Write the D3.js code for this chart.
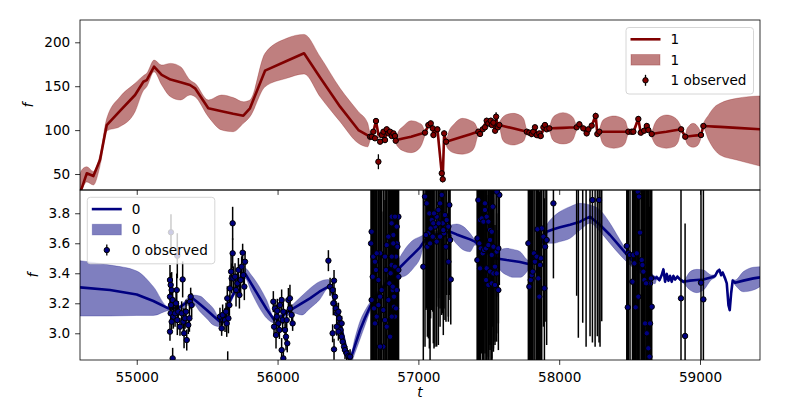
<!DOCTYPE html>
<html><head><meta charset="utf-8">
<script src="https://cdn.jsdelivr.net/npm/d3@7"></script>
<style>body{margin:0;background:#fff}svg{display:block}text{font-family:"DejaVu Sans",sans-serif}</style>
</head><body><svg id="c" width="800" height="400"></svg>
<script>
// ---------- data ----------
const xTicks = [55000, 56000, 57000, 58000, 59000];
const yTicks1 = [50, 100, 150, 200];
const yTicks0 = [3.0, 3.2, 3.4, 3.6, 3.8];
const legendLabels1 = ["1", "1", "1 observed"];
const legendLabels0 = ["0", "0", "0 observed"];

// prediction of series 1: [t, mean, lower, upper]
const pred1 = [
[54597,30,26,50],[54609,33.7,31,54.6],[54645,50.8,41,58.3],[54692,47.7,37.5,53],[54739,66,59,72],
[54787,105.8,99,113.4],[54881,122,104,138],[54988,140,121,153.3],[55047,155.1,145,162],[55071,157,149.4,164.7],
[55123,172.2,166.5,179.8],[55177,162.8,151.4,174.1],[55240,157.6,138,176],[55311,154.6,134.3,172.2],
[55378,151.4,140,157],[55414,147.6,138,153.3],[55508,124.8,115.3,134.3],[55603,121.5,100.1,140],
[55685,118.6,98.2,137],[55757,116.4,107.7,132.3],[55804,124.8,115.3,134.3],[55911,167.7,149.4,187.5],
[56064,178.7,159,204.5],[56188,187.5,164,209],[56302,160,138,183.6],[56444,126.7,109.6,147.6],
[56574,100.1,85,121],[56640,94,81,108],[56657,92.5,88,98],
[56680,98.2,95,101],[56699,110.4,106,113],[56716,95,91,98],[56740,94.4,91,97],[56763,88.7,85,92],
[56775,100.9,97,104],[56799,98.2,95,101],[56823,96.3,93,99],[56839,87.9,85,91],
[56860,89.3,80,99],[56890,90.5,76.5,104],[56948,92.5,74.3,110.7],[57000,95,78,108.5],[57025,96.2,84,106],[57047,97.1,94,100],
[57071,105.8,102,109],[57088,107.7,104,111],[57102,102,99,105],[57107,94.4,91,98],[57135,100.9,97,104],
[57166,50.8,47,55],[57173,44,40,48],[57183,96.3,92,100],[57197,86.8,83,90],
[57220,88,77,100],[57254,89.6,74,107],[57311,92.5,72.6,113.4],[57369,95.4,75,111],[57400,97,81,108],[57426,98.2,95,101],
[57457,100.9,98,104],[57485,110.7,107,114],[57497,107.7,104,111],[57514,110.7,107,114],[57533,108.5,105,112],
[57545,99.3,96,103],[57552,115.3,111,119],[57564,103.2,100,106],[57575,105.8,102,109],
[57595,105,90,114],[57623,103.9,85,117.5],[57672,102,83,119.1],[57721,100.1,85,117],[57750,99,88,112],[57770,98.2,95,101],
[57805,95.6,92,99],[57828,103.2,100,106],[57840,94.4,91,98],[57869,93.3,90,97],[57899,105.8,102,109],[57930,102,99,105],
[57950,102.1,90,113],[57978,102.3,86,117.5],[58027,102.6,84.2,119.9],[58076,102.9,86,117.5],[58104,103,91,113],[58124,103.2,100,106],
[58143,106.6,103,110],[58171,102,99,105],[58195,96.3,93,99],[58231,105.1,102,108],[58259,116.1,112,120],
[58271,95.6,92,99],[58285,98.2,95,101],
[58305,98.2,86,110],[58337,98.2,81,114],[58388,98.2,79.3,116.1],[58440,98.2,81,114],[58471,98.2,86,110],[58491,98.2,95,101],
[58527,98.2,95,101],[58562,112.7,109,116],[58579,97.1,94,100],[58603,99.3,96,103],[58622,104.7,101,108],[58657,95.6,92,99],
[58677,96.2,85,107],[58709,97,81,114],[58761,98.2,79.3,117.2],[58813,99.6,81,115],[58846,100.4,87,110],[58866,100.9,98,104],
[58895,92.5,90,95],[58906,92.7,85,101],[58923,93,82,105],[58951,93.5,80.4,107.7],[58979,94,82,105],[58996,94.2,86,101],[59007,94.4,91,97],
[59024,104.7,102,107],[59060,104.4,89,117],[59105,104,77.3,126.7],[59143,103.7,71.6,130.5],
[59261,102.6,66,136.2],[59426,100.9,59.1,138.9]
];

// observations of series 1: [t, f, error]
const obs1 = [
[56657,92.5,2],[56669,92.5,2],[56680,98.2,2],[56692,90.7,2],[56699,110.4,3],[56716,64.0,8.5],[56728,86.8,2],
[56740,94.4,2],[56752,98.2,2],[56763,88.7,2],[56775,100.9,2],[56787,96.3,2],[56799,98.2,2],[56811,93.3,2],
[56823,96.3,2],[56834,93.3,2],[56839,87.9,2],
[57047,97.1,2],[57071,105.8,2],[57088,107.7,2],[57102,102,2],[57107,94.4,2],[57135,100.9,2],[57166,50.8,2],
[57173,44.0,2],[57183,96.3,2],[57197,86.8,2],
[57426,98.2,2],[57438,95.6,2],[57457,100.9,2],[57473,103.2,2],[57485,110.7,2],[57497,107.7,2],[57514,110.7,2],
[57521,105.8,2],[57533,108.5,2],[57545,99.3,2],[57552,115.3,5],[57564,103.2,2],[57575,105.8,2],
[57770,98.2,2],[57788,97.1,2],[57805,95.6,2],[57816,98.2,2],[57828,103.2,2],[57840,94.4,2],[57859,96.3,2],
[57869,93.3,2],[57888,103.2,2],[57899,105.8,2],[57911,100.9,2],[57930,102,2],
[58124,103.2,2],[58143,106.6,2],[58171,102,2],[58195,96.3,2],[58207,100.9,2],[58231,105.1,2],[58259,116.1,3],
[58271,95.6,2],[58285,98.2,2],
[58491,98.2,2],[58515,98.2,2],[58527,98.2,2],[58562,112.7,3],[58579,97.1,2],[58603,99.3,2],[58622,104.7,2],
[58633,100.1,2],[58657,95.6,2],
[58866,100.9,2],[58895,92.5,2],[59007,94.4,2],[59024,104.7,2]
];

// prediction of series 0: [t, mean, lower, upper]
const pred0 = [
[54597,3.306,3.115,3.484],[54810,3.288,3.115,3.455],[55000,3.259,3.119,3.415],[55118,3.215,3.119,3.311],
[55224,3.166,3.151,3.177],[55300,3.17,3.155,3.185],[55397,3.233,3.2,3.255],[55449,3.193,3.144,3.248],
[55497,3.155,3.099,3.211],[55544,3.115,3.055,3.166],[55591,3.077,3.044,3.1],[55680,3.25,3.23,3.27],
[55769,3.399,3.366,3.433],[55816,3.326,3.27,3.385],[55871,3.24,3.17,3.31],[55923,3.16,3.1,3.22],
[55975,3.09,3.07,3.11],[56040,3.12,3.1,3.14],[56112,3.166,3.136,3.196],[56171,3.2,3.122,3.248],
[56230,3.233,3.166,3.299],[56297,3.277,3.222,3.344],[56361,3.311,3.299,3.359],[56380,3.30,3.285,3.315],
[56450,3.05,3.035,3.065],[56500,2.85,2.835,2.865],[56515,2.82,2.79,2.85],[56550,2.92,2.87,2.97],
[56586,3.022,2.962,3.082],[56620,3.1,3.05,3.15],[56657,3.177,3.147,3.207],[56760,3.32,3.3,3.34],
[56870,3.44,3.37,3.51],[56917,3.484,3.388,3.577],[56964,3.528,3.433,3.622],[57012,3.573,3.5,3.644],
[57047,3.622,3.6,3.66],[57130,3.66,3.64,3.68],[57225,3.677,3.64,3.72],[57272,3.659,3.595,3.728],
[57320,3.642,3.555,3.711],[57367,3.626,3.544,3.666],[57402,3.611,3.588,3.622],[57470,3.56,3.54,3.58],
[57544,3.5,3.477,3.522],[57580,3.495,3.422,3.555],[57627,3.488,3.388,3.566],[57674,3.482,3.373,3.559],
[57722,3.475,3.373,3.544],[57781,3.462,3.422,3.488],[57850,3.55,3.53,3.57],[57911,3.677,3.6,3.722],
[57959,3.693,3.6,3.777],[58006,3.706,3.611,3.811],[58077,3.724,3.633,3.844],[58148,3.744,3.688,3.866],
[58219,3.777,3.733,3.855],[58290,3.722,3.677,3.822],[58361,3.655,3.599,3.733],[58432,3.577,3.522,3.622],
[58503,3.5,3.455,3.522],[58574,3.433,3.4,3.455],[58645,3.388,3.35,3.411],[58681,3.366,3.33,3.38],
[58693,3.373,3.36,3.386],[58712,3.355,3.345,3.365],[58728,3.388,3.378,3.398],[58740,3.426,3.416,3.436],
[58752,3.344,3.334,3.354],[58764,3.395,3.385,3.405],[58776,3.351,3.341,3.361],[58787,3.382,3.372,3.392],
[58799,3.344,3.334,3.354],[58811,3.382,3.372,3.392],[58823,3.359,3.349,3.369],[58839,3.377,3.367,3.387],
[58858,3.359,3.349,3.369],[58882,3.344,3.334,3.354],[58929,3.351,3.288,3.41],[58977,3.355,3.271,3.426],
[59024,3.359,3.288,3.422],[59083,3.373,3.359,3.388],[59107,3.382,3.372,3.392],[59123,3.411,3.401,3.421],
[59138,3.422,3.412,3.432],[59150,3.388,3.378,3.398],[59161,3.404,3.394,3.414],[59178,3.366,3.356,3.376],
[59190,3.333,3.323,3.343],[59202,3.188,3.178,3.198],[59211,3.155,3.145,3.165],[59221,3.266,3.256,3.276],
[59232,3.351,3.341,3.361],[59249,3.337,3.322,3.355],[59308,3.351,3.277,3.411],[59379,3.366,3.288,3.44],
[59426,3.373,3.311,3.444]
];

// observations of series 0: [t, f, error]
const obs0 = [
[55236,3.355,0.10],[55241,3.322,0.08],[55248,3.288,0.12],[55236,3.244,0.09],[55255,3.222,0.07],[55243,3.188,0.10],
[55241,3.133,0.06],[55260,3.111,0.08],[55248,3.077,0.05],[55236,3.011,0.06],[55272,3.133,0.09],[55284,3.288,0.11],
[55279,3.200,0.08],[55295,3.144,0.07],[55288,3.088,0.10],[55307,3.044,0.06],[55319,3.133,0.08],[55326,3.359,0.12],
[55331,3.077,0.09],[55336,3.000,0.10],[55343,3.100,0.07],[55350,3.144,0.08],[55355,2.955,0.07],[55366,3.055,0.06],
[55374,3.100,0.09],[55378,3.211,0.05],[55383,3.244,0.06],[55390,3.188,0.08],[55255,2.833,0.07],[55243,3.673,0.12],
[55288,3.517,0.15],
[55591,3.111,0.06],[55603,3.033,0.05],[55610,3.122,0.07],[55627,3.088,0.08],[55639,3.066,0.09],[55634,3.144,0.06],
[55651,3.100,0.10],[55643,3.233,0.08],[55658,3.188,0.07],[55662,3.299,0.09],[55674,3.366,0.10],[55670,3.411,0.12],
[55681,3.533,0.10],[55681,3.733,0.11],[55686,3.366,0.08],[55698,3.377,0.09],[55705,3.288,0.11],[55715,3.333,0.07],
[55722,3.422,0.08],[55729,3.255,0.09],[55738,3.355,0.10],[55745,3.444,0.07],[55752,3.537,0.06],[55757,3.388,0.08],
[55769,3.477,0.07],[55764,3.311,0.09],[55646,2.80,0.08],
[55970,3.211,0.07],[55982,3.166,0.06],[55994,3.111,0.08],[56006,3.066,0.07],[55975,3.044,0.06],[55989,2.988,0.09],
[56017,3.188,0.05],[56029,3.222,0.07],[56041,3.144,0.08],[56036,3.088,0.06],[56053,3.022,0.07],[56060,2.977,0.09],
[56069,2.933,0.06],[56029,2.888,0.08],[56041,2.833,0.07],[56077,3.222,0.08],[56088,3.166,0.06],[56100,3.122,0.07],
[56107,3.066,0.05],[56088,3.233,0.09],[56065,3.088,0.07],[56013,3.022,0.06],[55998,3.15,0.08],
[56361,3.484,0.07],[56373,3.311,0.06],[56401,3.351,0.07],[56391,3.288,0.05],[56408,3.244,0.06],[56396,3.2,0.08],
[56415,3.166,0.05],[56420,3.133,0.07],[56432,3.144,0.06],[56439,3.1,0.05],[56444,3.066,0.06],[56448,3.022,0.07],
[56455,2.977,0.05],[56462,2.944,0.06],[56472,2.911,0.05],[56479,2.888,0.06],[56491,2.866,0.05],[56503,2.848,0.04],
[56515,2.844,0.05],[56391,3.0,0.06],[56401,2.893,0.07],[56432,3.011,0.06],[56455,3.066,0.05],[56420,3.044,0.06],
[56668,3.677,1.0],[56664,3.599,0.9],[56680,3.511,1.1],[56692,3.477,0.8],[56676,3.377,1.2],[56699,3.422,0.9],
[56668,3.222,1.0],[56685,3.166,0.8],[56704,3.111,1.3],[56692,3.066,0.9],[56716,3.188,0.8],[56728,3.244,1.1],
[56739,3.288,0.9],[56751,3.155,1.0],[56763,3.088,0.8],[56775,3.044,1.2],[56787,3.222,0.9],[56794,3.333,1.0],
[56803,3.4,0.8],[56810,3.455,1.1],[56818,3.288,0.9],[56827,3.177,1.0],[56834,3.111,0.8],[56841,3.511,1.2],
[56846,3.599,0.9],[56858,3.777,1.0],[56822,3.655,1.1],[56775,3.588,0.9],[56763,3.511,1.0],[56751,2.911,0.9],
[56728,2.911,1.1],[56799,2.977,1.0],[56846,3.288,0.8],[56858,3.377,1.0],[56770,3.422,0.9],[56716,3.355,1.2],
[56728,3.533,0.9],[56704,3.533,1.0],[56787,3.644,1.1],[56810,3.733,0.9],[56811,3.777,1.0],[56834,3.777,1.2],
[56846,3.711,0.9],[56822,3.599,1.0],[56811,3.511,0.8],[56834,3.444,1.1],[56858,3.422,0.9],[56818,3.311,1.0],
[56827,3.244,0.8],[56841,3.166,1.0],[56811,3.111,0.9],[56851,3.577,1.0],
[57047,3.911,1.0],[57059,3.866,0.7],[57078,3.799,0.9],[57095,3.755,0.6],[57071,3.666,0.7],[57054,3.655,0.5],
[57035,3.444,0.9],[57064,3.577,0.6],[57083,3.599,0.8],[57102,3.644,0.5],[57118,3.711,0.8],[57130,3.777,0.6],
[57142,3.822,0.9],[57154,3.866,0.7],[57166,3.922,0.8],[57173,3.733,0.6],[57182,3.666,0.5],[57189,3.788,0.7],
[57201,3.755,0.5],[57213,3.711,0.6],[57220,3.855,0.6],[57225,3.622,0.4],[57230,3.359,0.3],[57213,3.477,0.4],
[57196,3.577,0.5],[57177,3.688,0.7],[57154,3.644,0.6],[57130,3.611,0.7],[57106,3.733,0.8],[57087,3.699,0.6],
[57111,3.799,0.9],[57144,3.733,0.5],
[57426,3.888,1.1],[57438,3.755,1.0],[57450,3.766,0.9],[57462,3.744,1.1],[57473,3.822,0.8],[57485,3.777,1.0],
[57497,3.744,0.9],[57509,3.688,0.8],[57521,3.677,0.9],[57419,3.633,1.0],[57433,3.599,0.9],[57443,3.566,1.1],
[57457,3.533,0.8],[57466,3.555,1.0],[57481,3.566,0.9],[57497,3.588,0.8],[57509,3.622,0.7],[57521,3.522,0.8],
[57533,3.577,0.7],[57544,3.444,0.5],[57556,3.544,0.6],[57568,3.566,0.5],[57419,3.488,0.9],[57438,3.433,1.0],
[57485,3.433,0.8],[57509,3.411,0.6],[57533,3.399,0.5],[57556,3.399,0.4],[57481,3.355,0.7],[57497,3.322,0.6],
[57521,3.333,0.5],[57544,3.322,0.4],[57568,3.288,0.4],[57575,3.922,0.6],[57556,3.944,0.7],[57528,3.844,0.8],
[57473,3.866,1.0],
[57781,3.6,1.0],[57788,3.311,0.9],[57798,3.355,1.1],[57805,3.388,0.8],[57812,3.411,1.0],[57821,3.533,0.9],
[57828,3.477,1.1],[57840,3.511,0.8],[57852,3.366,0.9],[57859,3.244,0.7],[57864,3.455,0.8],[57876,3.699,0.9],
[57888,3.644,0.6],[57900,3.577,0.5],[57911,3.622,0.7],[57845,3.693,0.9],[57959,3.866,0.5],[57895,3.3,0.6],
[57870,3.5,0.7],
[58124,4.3,1.05],[58136,4.3,1.33],[58167,4.25,1.18],[58191,4.3,1.39],[58219,4.28,1.3],[58236,3.888,0.95],
[58255,4.3,1.39],[58271,4.2,1.22],[58283,3.888,0.95],[58290,4.3,1.39],[58302,4.2,1.12],
[58480,3.582,1.2],[58491,3.533,1.0],[58503,3.522,1.3],[58527,3.522,1.1],[58520,3.344,0.9],[58534,3.466,1.2],
[58551,3.533,1.0],[58562,3.244,0.9],[58574,3.671,1.3],[58586,3.488,1.1],[58591,3.455,1.0],[58598,3.411,1.2],
[58605,3.355,0.9],[58610,3.066,1.0],[58622,3.0,1.1],[58633,2.9,1.2],[58641,2.844,1.0],[58645,3.333,0.9],
[58652,3.366,1.2],[58657,3.177,1.0],[58487,3.173,1.1],[58543,3.173,1.0],[58558,3.944,1.2],[58567,3.911,1.3],
[58629,3.333,1.1],[58645,3.066,1.0],[58617,3.333,1.2],
[58865,3.233,1.0],[58894,2.982,0.75],[59007,3.337,1.0],[59024,3.226,1.0]
];

// ---------- drawing ----------
const FS = 13.6;
const svg = d3.select("#c");
const L = 80, R = 760;
const x = d3.scaleLinear().domain([54597, 59426]).range([L, R]);
const y1 = d3.scaleLinear().domain([31.8, 225.4]).range([190, 20]);
const y0 = d3.scaleLinear().domain([2.822, 3.955]).range([360, 190]);

const defs = svg.append("defs");
function clip(id, top, bot) {
  defs.append("clipPath").attr("id", id).append("rect")
    .attr("x", L).attr("y", top).attr("width", R - L).attr("height", bot - top);
}
clip("cTop", 20, 190);
clip("cBot", 190, 360);

function drawPanel(pred, obs, y, color, clipId, ewidth) {
  const g = svg.append("g").attr("clip-path", `url(#${clipId})`);
  const area = d3.area().x(d => x(d[0])).y0(d => y(d[2])).y1(d => y(d[3])).curve(d3.curveMonotoneX);
  g.append("path").datum(pred).attr("d", area)
    .attr("fill", color).attr("fill-opacity", 0.5)
    .attr("stroke", color).attr("stroke-opacity", 0.25).attr("stroke-width", 1);
  const line = d3.line().x(d => x(d[0])).y(d => y(d[1]));
  g.append("path").datum(pred).attr("d", line)
    .attr("fill", "none").attr("stroke", color).attr("stroke-width", 2.6)
    .attr("stroke-linejoin", "round");
  g.append("g").selectAll("line").data(obs).join("line")
    .attr("x1", d => x(d[0])).attr("x2", d => x(d[0]))
    .attr("y1", d => y(d[1] - d[2])).attr("y2", d => y(d[1] + d[2]))
    .attr("stroke", "#000").attr("stroke-width", ewidth);
  g.append("g").selectAll("circle").data(obs).join("circle")
    .attr("cx", d => x(d[0])).attr("cy", d => y(d[1])).attr("r", 2.7)
    .attr("fill", color).attr("stroke", "#000").attr("stroke-width", 1);
}

drawPanel(pred0, obs0, y0, "#000080", "cBot", 1.5);
drawPanel(pred1, obs1, y1, "#800000", "cTop", 1.3);

// axes
function styleAxis(g) {
  g.select(".domain").remove();
  g.selectAll(".tick line").attr("stroke", "#000").attr("stroke-width", 0.8);
  g.selectAll(".tick text").attr("font-size", FS).attr("fill", "#000")
    .attr("font-family", "DejaVu Sans, sans-serif");
}
svg.append("g").attr("transform", `translate(${L},0)`)
  .call(d3.axisLeft(y1).tickValues(yTicks1).tickSize(4.9).tickPadding(4.9).tickFormat(d3.format("d")))
  .call(styleAxis);
svg.append("g").attr("transform", `translate(${L},0)`)
  .call(d3.axisLeft(y0).tickValues(yTicks0).tickSize(4.9).tickPadding(4.9).tickFormat(d3.format(".1f")))
  .call(styleAxis);
svg.append("g").attr("transform", `translate(0,360)`)
  .call(d3.axisBottom(x).tickValues(xTicks).tickSize(4.9).tickPadding(7).tickFormat(d3.format("d")))
  .call(styleAxis);
svg.append("g").attr("transform", `translate(0,190)`)
  .call(d3.axisBottom(x).tickValues(xTicks).tickSize(4.9).tickFormat(""))
  .call(styleAxis);

// frames
[[20, 190], [190, 360]].forEach(([t, b]) => {
  svg.append("rect").attr("x", L).attr("y", t).attr("width", R - L).attr("height", b - t)
    .attr("fill", "none").attr("stroke", "#000").attr("stroke-width", 0.8);
});

// axis labels
svg.append("text").attr("transform", "translate(33.3,105) rotate(-90)")
  .attr("text-anchor", "middle").attr("font-size", FS).attr("font-style", "italic").text("f");
svg.append("text").attr("transform", "translate(38,275) rotate(-90)")
  .attr("text-anchor", "middle").attr("font-size", FS).attr("font-style", "italic").text("f");
svg.append("text").attr("x", 420).attr("y", 397)
  .attr("text-anchor", "middle").attr("font-size", FS).attr("font-style", "italic").text("t");

// legends
function legend(bx, by, color, labels) {
  const g = svg.append("g").attr("transform", `translate(${bx},${by})`);
  g.append("rect").attr("x", 0).attr("y", 0).attr("width", 127.5).attr("height", 66.5)
    .attr("rx", 3).attr("fill", "#fff").attr("fill-opacity", 0.8)
    .attr("stroke", "#cccccc").attr("stroke-width", 0.8);
  const rows = [11.8, 32.3, 52.8];
  g.append("line").attr("x1", 4.5).attr("x2", 34.5).attr("y1", rows[0]).attr("y2", rows[0])
    .attr("stroke", color).attr("stroke-width", 2.6);
  g.append("rect").attr("x", 5).attr("y", rows[1] - 5.3).attr("width", 29).attr("height", 10.6)
    .attr("fill", color).attr("fill-opacity", 0.5).attr("stroke", color).attr("stroke-opacity", 0.25);
  g.append("line").attr("x1", 19.5).attr("x2", 19.5).attr("y1", rows[2] - 5.5).attr("y2", rows[2] + 5.5)
    .attr("stroke", "#000").attr("stroke-width", 1.3);
  g.append("circle").attr("cx", 19.5).attr("cy", rows[2]).attr("r", 2.7)
    .attr("fill", color).attr("stroke", "#000").attr("stroke-width", 1);
  labels.forEach((t, i) => {
    g.append("text").attr("x", 44.5).attr("y", rows[i]).attr("dy", "0.36em")
      .attr("font-size", FS).attr("fill", "#000").text(t);
  });
}
legend(626, 27.5, "#800000", legendLabels1);
legend(87.3, 197.3, "#000080", legendLabels0);
</script></body></html>
